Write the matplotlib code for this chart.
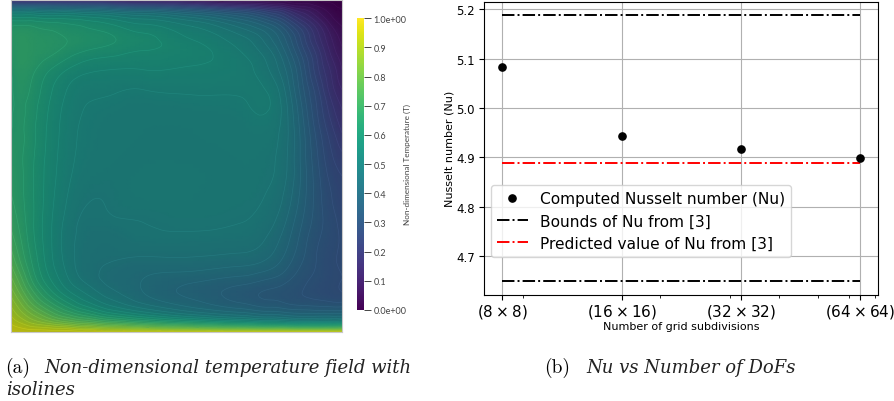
import numpy as np
import matplotlib
matplotlib.use('Agg')
import matplotlib.pyplot as plt
import matplotlib.tri as mtri
from matplotlib.colors import ListedColormap, Normalize
from matplotlib.cm import ScalarMappable
from matplotlib.ticker import NullFormatter

# temperature field (rows from the top wall down)
field_x = [0, .03, .07, .12, .17, .22, .3, .4, .55, .7, .78, .83, .88, .93, .97, 1]
field_y = [1, .99, .975, .95, .92, .88, .84, .79, .73, .67, .6, .5, .4, .33, .27, .21, .16, .12, .08, .05, .025, .01, 0]
field_T = [
    [.14, .14, .14, .14, .14, .13, .12, .10, .08, .05, .04, .03, .02, .01, .00, .00],
    [.26, .26, .26, .26, .25, .25, .23, .20, .16, .11, .08, .06, .04, .02, .01, .00],
    [.42, .42, .42, .41, .41, .40, .38, .35, .30, .23, .18, .14, .09, .05, .02, .01],
    [.57, .57, .57, .56, .56, .55, .53, .50, .45, .37, .30, .24, .16, .09, .04, .02],
    [.64, .645, .64, .63, .62, .61, .59, .56, .52, .45, .39, .32, .23, .14, .07, .04],
    [.655, .665, .66, .65, .64, .63, .615, .59, .55, .50, .44, .37, .27, .17, .10, .06],
    [.65, .665, .66, .645, .625, .605, .59, .575, .56, .52, .47, .40, .30, .20, .12, .08],
    [.64, .66, .645, .61, .58, .56, .55, .55, .545, .53, .49, .43, .33, .22, .15, .10],
    [.635, .65, .63, .585, .55, .53, .525, .52, .525, .525, .515, .455, .35, .25, .17, .13],
    [.635, .645, .62, .575, .54, .52, .51, .505, .508, .515, .52, .47, .37, .27, .20, .16],
    [.64, .645, .615, .57, .535, .515, .505, .50, .50, .505, .505, .47, .385, .29, .23, .19],
    [.655, .645, .61, .565, .53, .51, .50, .50, .50, .50, .495, .465, .39, .31, .26, .24],
    [.675, .65, .61, .56, .52, .495, .493, .50, .50, .497, .485, .45, .385, .32, .28, .26],
    [.695, .66, .61, .555, .51, .485, .485, .49, .495, .49, .47, .43, .37, .32, .29, .27],
    [.72, .675, .615, .555, .505, .48, .47, .48, .48, .475, .45, .41, .355, .31, .29, .275],
    [.76, .70, .63, .56, .51, .475, .46, .45, .45, .44, .42, .385, .34, .305, .285, .275],
    [.80, .74, .655, .58, .525, .485, .45, .43, .41, .39, .37, .35, .32, .30, .285, .28],
    [.84, .78, .70, .62, .56, .52, .47, .43, .39, .355, .335, .325, .31, .295, .285, .28],
    [.88, .83, .76, .69, .63, .58, .52, .47, .42, .38, .36, .35, .34, .335, .33, .33],
    [.91, .87, .82, .76, .71, .67, .61, .56, .50, .46, .44, .43, .42, .42, .42, .42],
    [.94, .915, .88, .85, .82, .79, .75, .71, .66, .62, .60, .59, .58, .58, .58, .59],
    [.955, .945, .93, .92, .91, .89, .87, .85, .82, .80, .79, .79, .78, .78, .78, .79],
    [.96, .96, .96, .96, .96, .96, .96, .96, .96, .96, .96, .96, .96, .96, .96, .96],
]
cbar_ticks = [0, .1, .2, .3, .4, .5, .6, .7, .8, .9, 1]
cbar_labels = ['0.0e+00', '0.1', '0.2', '0.3', '0.4', '0.5', '0.6', '0.7', '0.8', '0.9', '1.0e+00']

# Nusselt number study
subdivisions = [8, 16, 32, 64]
grid_labels = [r'$(8 \times 8)$', r'$(16 \times 16)$', r'$(32 \times 32)$', r'$(64 \times 64)$']
nusselt = [5.084, 4.943, 4.918, 4.899]
nu_upper = [5.189, 5.189, 5.189, 5.189]
nu_lower = [4.65, 4.65, 4.65, 4.65]
nu_pred = [4.888, 4.888, 4.888, 4.888]
nu_ticks = [4.7, 4.8, 4.9, 5.0, 5.1, 5.2]

W, H = 894, 402


def px_axes(fig, left, top, right, bottom):
    return fig.add_axes([left / W, 1 - bottom / H, (right - left) / W, (bottom - top) / H])


fig = plt.figure(figsize=(W / 100, H / 100), dpi=100)

# the render looks darker than the colour bar, so dim viridis for the field
base = plt.get_cmap('viridis')(np.linspace(0, 1, 256))[:, :3]
dim = ListedColormap(base * 0.8)
iso = ListedColormap(np.clip(base * 0.86 + 0.02, 0, 1))
norm = Normalize(0, 1)

X, Y = np.meshgrid(field_x, field_y)
T = np.array(field_T)
tri = mtri.Triangulation(X.ravel(), Y.ravel())
fine_tri, fine_T = mtri.UniformTriRefiner(tri).refine_field(T.ravel(), subdiv=3)

ax1 = px_axes(fig, 10.5, 1, 342, 333)
ax1.tripcolor(fine_tri, fine_T, cmap=dim, norm=norm, shading='gouraud')
ax1.tricontour(fine_tri, fine_T, levels=np.arange(0.01, 1, 0.03), cmap=iso, norm=norm, linewidths=0.5)
ax1.set_xlim(0, 1)
ax1.set_ylim(0, 1)
ax1.set_xticks([])
ax1.set_yticks([])
for s in ax1.spines.values():
    s.set_color('#c8c8c8')
    s.set_linewidth(0.8)

cax = px_axes(fig, 357.3, 19.3, 364.3, 311)
cb = fig.colorbar(ScalarMappable(norm=norm, cmap='viridis'), cax=cax)
cb.outline.set_visible(False)
cb.set_ticks(cbar_ticks)
cb.set_ticklabels(cbar_labels)
cb.ax.tick_params(length=5, width=0.7, color='#444444', labelsize=6.5, labelcolor='#444444', pad=1.5, direction='out')
for t in cb.ax.get_yticklabels():
    t.set_family('Lato')
fig.text(407 / W, 1 - 165 / H, 'Non-dimensional Temperature (T)', rotation=90, ha='center', va='center',
         fontsize=5.9, family='Lato', color='#444444')

ax2 = px_axes(fig, 484.5, 3, 877.7, 295.7)
ax2.plot(subdivisions, nusselt, 'o', color='k', ms=5.2, label='Computed Nusselt number (Nu)', zorder=3)
ax2.plot(subdivisions, nu_upper, '-.', color='k', lw=1.4, label='Bounds of Nu from [3]')
ax2.plot(subdivisions, nu_lower, '-.', color='k', lw=1.4)
ax2.plot(subdivisions, nu_pred, '-.', color='r', lw=1.4, label='Predicted value of Nu from [3]')
ax2.set_xscale('log')
ax2.set_xlim(8 * 2 ** (-17.8 / 119.2), 64 * 2 ** (17.7 / 119.2))
ax2.set_ylim(4.622, 5.215)
ax2.set_xticks(subdivisions)
ax2.set_xticklabels(grid_labels, fontsize=11)
ax2.xaxis.set_minor_formatter(NullFormatter())
ax2.tick_params(axis='x', which='major', pad=1.5)
ax2.set_yticks(nu_ticks)
ax2.set_yticklabels(['%.1f' % v for v in nu_ticks])
ax2.tick_params(axis='y', labelsize=8.5)
ax2.set_xlabel('Number of grid subdivisions', fontsize=8, labelpad=1)
ax2.set_ylabel('Nusselt number (Nu)', fontsize=8, labelpad=1)
ax2.grid(True, which='major')
ax2.set_axisbelow(True)
ax2.legend(loc='lower left', bbox_to_anchor=(0.0158, 0.129), borderaxespad=0, fontsize=11.1,
           framealpha=0.8, labelspacing=0.47, handlelength=2.0)

# captions
cap = dict(family='DejaVu Serif', style='italic', fontsize=13, color='#222222', ha='left', va='center')
fig.text(5 / W, 1 - 368 / H, '(a)', family='cmr10', fontsize=14, ha='left', va='center')
fig.text(44.5 / W, 1 - 368 / H, 'Non-dimensional temperature field with', **cap)
fig.text(6 / W, 1 - 390 / H, 'isolines', **cap)
fig.text(544 / W, 1 - 368 / H, '(b)', family='cmr10', fontsize=14, ha='left', va='center')
fig.text(586 / W, 1 - 368 / H, 'Nu vs Number of DoFs', **cap)

fig.savefig('out.png', dpi=100)
